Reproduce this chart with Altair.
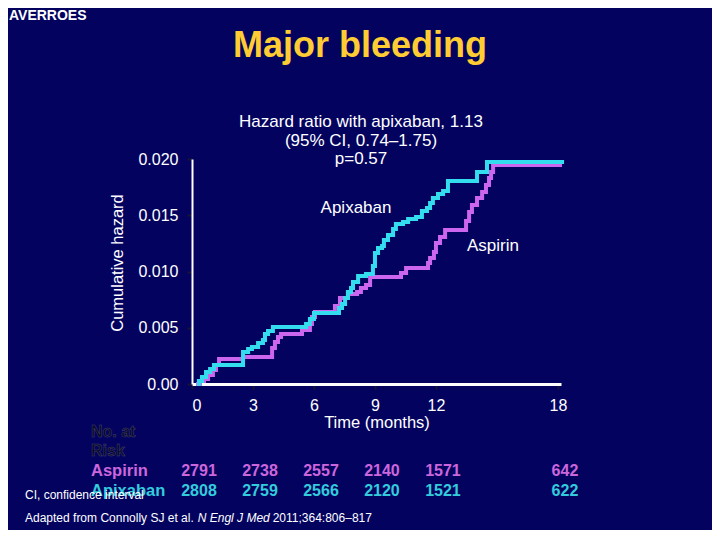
import altair as alt
import pandas as pd

# ---- data ----
apx_month = [0.25, 0.34, 0.49, 0.69, 0.89, 1.08, 2.51, 2.76, 2.95, 3.25, 3.49, 3.59, 3.74, 3.98,
             5.61, 5.80, 6.00, 7.23, 7.38, 7.53, 7.67, 7.82, 7.92, 8.17, 8.56, 8.90, 9.00, 9.15,
             9.35, 9.44, 9.64, 9.89, 10.03, 10.38, 10.63, 11.02, 11.31, 11.56, 11.71, 11.85,
             12.10, 12.35, 12.59, 14.02, 14.51, 18.30]
apx_hazard = [0, 0.00027, 0.00062, 0.00107, 0.00133, 0.00169, 0.00284, 0.00311, 0.00329, 0.00364,
              0.00391, 0.00444, 0.00471, 0.00507, 0.00533, 0.00578, 0.00631, 0.00676, 0.00711,
              0.00764, 0.00818, 0.00853, 0.00907, 0.00960, 0.00978, 0.01049, 0.01164, 0.01209,
              0.01227, 0.01280, 0.01324, 0.01378, 0.01422, 0.01440, 0.01467, 0.01484, 0.01538,
              0.01564, 0.01609, 0.01653, 0.01689, 0.01716, 0.01804, 0.01884, 0.01973, 0.01973]

asp_month = [0.20, 0.39, 0.59, 0.79, 1.03, 1.18, 1.33, 2.51, 3.94, 4.08, 4.23, 4.38, 5.41, 5.80,
             5.90, 6.05, 7.03, 7.28, 7.67, 8.12, 8.31, 8.56, 8.76, 10.28, 10.53, 11.61, 11.71,
             11.90, 12.00, 12.20, 12.45, 13.48, 13.63, 13.77, 14.02, 14.27, 14.46, 14.61, 14.71,
             14.81, 18.20]
asp_hazard = [0, 0.00027, 0.00044, 0.00080, 0.00124, 0.00169, 0.00222, 0.00240, 0.00320, 0.00373,
              0.00418, 0.00444, 0.00480, 0.00533, 0.00596, 0.00640, 0.00693, 0.00764, 0.00800,
              0.00818, 0.00853, 0.00880, 0.00951, 0.00987, 0.01031, 0.01076, 0.01120, 0.01173,
              0.01253, 0.01307, 0.01369, 0.01449, 0.01529, 0.01591, 0.01653, 0.01707, 0.01769,
              0.01831, 0.01884, 0.01947, 0.01947]

risk_months = [0, 3, 6, 9, 12, 18]
aspirin_risk = [2791, 2738, 2557, 2140, 1571, 642]
apixaban_risk = [2808, 2759, 2566, 2120, 1521, 622]

x_ticks = [0, 3, 6, 9, 12, 18]
y_ticks = [0, 0.005, 0.010, 0.015, 0.020]

# ---- styling ----
BG = "#03035F"
CYAN = "#33DDEE"
MAGENTA = "#CC66EE"
CYAN_T = "#33CCDD"
MAGENTA_T = "#CC66DD"
YELLOW = "#FFCC33"
FONT = "Liberation Sans"

xs = alt.Scale(domain=[0, 18.15], nice=False, zero=False)
ys = alt.Scale(domain=[0, 0.020], nice=False)

apx = pd.DataFrame({"month": apx_month, "hazard": apx_hazard})
asp = pd.DataFrame({"month": asp_month, "hazard": asp_hazard})

x_enc = alt.X("month:Q", scale=xs, axis=alt.Axis(
    values=x_ticks, title=None, domainColor="white", domainWidth=3,
    tickColor="#15153a", tickSize=5, tickWidth=2, labelColor="white",
    labelFont=FONT, labelFontSize=16, labelPadding=8, grid=False))
y_enc = alt.Y("hazard:Q", scale=ys, axis=alt.Axis(
    values=y_ticks, title=None, domainColor="white", domainWidth=2,
    tickColor="#15153a", tickSize=5, tickWidth=2, labelColor="white",
    labelFont=FONT, labelFontSize=16, labelPadding=9, grid=False,
    labelExpr="datum.value == 0 ? '0.00' : format(datum.value, '.3f')"))

asp_line = alt.Chart(asp).mark_line(interpolate="step-after", strokeWidth=4,
                                    color=MAGENTA).encode(x=x_enc, y=y_enc)
apx_line = alt.Chart(apx).mark_line(interpolate="step-after", strokeWidth=4,
                                    color=CYAN).encode(x=alt.X("month:Q", scale=xs),
                                                       y=alt.Y("hazard:Q", scale=ys))


def label(text, x, y, size=16, color="white", weight="normal", align="center",
          baseline="middle", angle=0, style="normal", stroke=None):
    kw = dict(fontSize=size, color=color, fontWeight=weight, align=align,
              baseline=baseline, font=FONT, fontStyle=style)
    if angle:
        kw["angle"] = angle
    if stroke:
        kw["stroke"] = stroke
        kw["strokeWidth"] = 0.5
    return alt.Chart(pd.DataFrame({"t": [text]})).mark_text(**kw).encode(
        text="t:N", x=alt.value(x), y=alt.value(y))


risk = pd.DataFrame({"month": risk_months, "asp": aspirin_risk, "apx": apixaban_risk})
asp_risk = alt.Chart(risk).mark_text(fontSize=16, fontWeight="bold", color=MAGENTA_T,
                                     font=FONT, dx=7).encode(
    x=alt.X("month:Q", scale=xs), y=alt.value(311.7), text="asp:Q")
apx_risk = alt.Chart(risk).mark_text(fontSize=16, fontWeight="bold", color=CYAN_T,
                                     font=FONT, dx=7).encode(
    x=alt.X("month:Q", scale=xs), y=alt.value(331.7), text="apx:Q")

texts = [
    label("AVERROES", -183, -150, size=14, weight="bold", align="left", baseline="top"),
    label("Major bleeding", 168, -113, size=36, weight="bold", color=YELLOW),
    label("Hazard ratio with apixaban, 1.13", 169, -37, size=17),
    label("(95% CI, 0.74\u20131.75)", 169, -18, size=17),
    label("p=0.57", 169, 0, size=17),
    label("Apixaban", 164, 49, size=17),
    label("Aspirin", 301, 87, size=17),
    label("Cumulative hazard", -74, 104, size=16.5, angle=270),
    label("Time (months)", 185, 264, size=16.5),
    label("No. at", -101, 272.7, size=16, weight="bold", color="#08082a", align="left",
          stroke="#44446a"),
    label("Risk", -101, 292, size=16, weight="bold", color="#08082a", align="left",
          stroke="#44446a"),
    label("Aspirin", -101, 311.7, size=16.5, weight="bold", color=MAGENTA_T, align="left"),
    label("Apixaban", -101, 331.7, size=16.5, weight="bold", color=CYAN_T, align="left"),
    label("CI, confidence interval", -167, 336, size=12, align="left"),
    label("Adapted from Connolly SJ et al.", -167, 358.7, size=12, align="left"),
    label("N Engl J Med", 5.7, 358.7, size=12, align="left", style="italic"),
    label("2011;364:806\u2013817", 80.7, 358.7, size=12, align="left"),
]

chart = alt.layer(asp_line, apx_line, asp_risk, apx_risk, *texts).properties(
    width=369, height=225,
    padding={"left": 184, "top": 151, "right": 151, "bottom": 146},
    autosize=alt.AutoSizeParams(type="none"),
    background=BG,
).configure_view(stroke=None)

chart.save("out.html", embed_options={"renderer": "svg", "actions": False})
